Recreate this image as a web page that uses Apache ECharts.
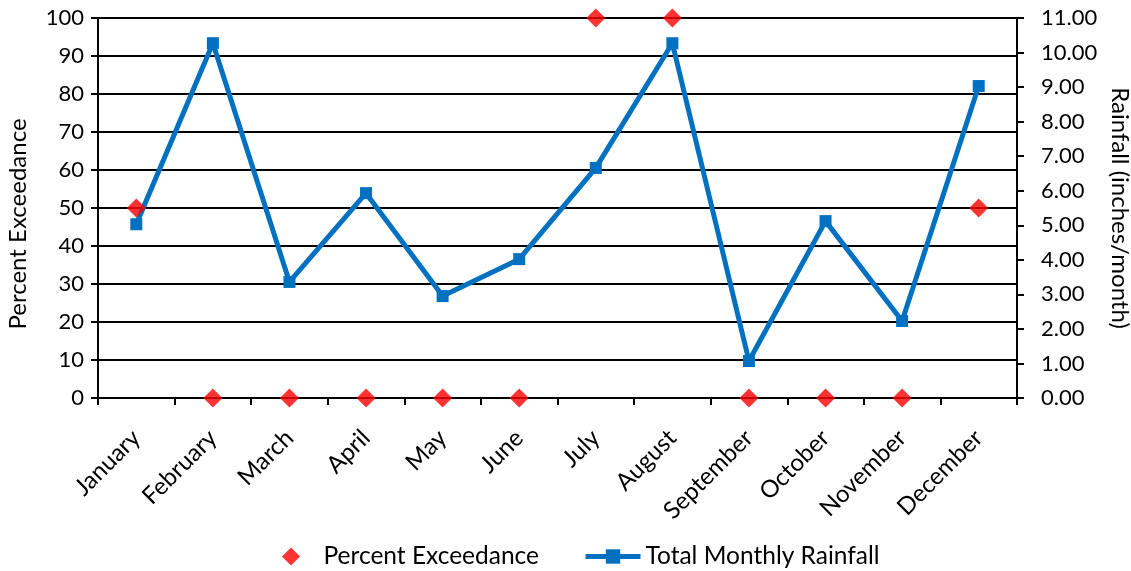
<!DOCTYPE html>
<html>
<head>
<meta charset="utf-8">
<script src="https://cdn.jsdelivr.net/npm/echarts@6/dist/echarts.min.js"></script>
<style>
  html, body { margin: 0; padding: 0; background: #fff; }
  #chart { width: 1131px; height: 571px; }
</style>
</head>
<body>
<div id="chart"></div>
<script>
// Monthly categories
const months = ['January', 'February', 'March', 'April', 'May', 'June',
  'July', 'August', 'September', 'October', 'November', 'December'];
// Percent exceedance per month (left axis)
const percentExceedance = [50, 0, 0, 0, 0, 0, 100, 100, 0, 0, 0, 50];
// Total monthly rainfall in inches (right axis)
const monthlyRainfall = [5.03, 10.27, 3.36, 5.93, 2.95, 4.02, 6.66, 10.27, 1.07, 5.12, 2.23, 9.03];

const FONT = 'Lato';
const black = '#000';
const blue = '#0070C0';
const red = '#FF0000';
// square-proportioned diamond so the legend icon is not stretched
const diamondPath = 'path://M10,0L20,10L10,20L0,10Z';

const chart = echarts.init(document.getElementById('chart'), null, { renderer: 'canvas' });
chart.setOption({
  animation: false,
  textStyle: { fontFamily: FONT, color: black },
  grid: {
    left: 98, right: 114, top: 18, bottom: 173,
    containLabel: false,
    outerBoundsMode: 'none'
  },
  legend: {
    top: 544,
    left: 282,
    padding: 0,
    itemWidth: 55,
    itemHeight: 18,
    itemGap: 44,
    symbolKeepAspect: true,
    textStyle: { fontFamily: FONT, fontSize: 24.5, color: black },
    data: [
      { name: 'Percent Exceedance', icon: diamondPath, itemStyle: { color: red } },
      { name: 'Total Monthly Rainfall', lineStyle: { width: 5, color: blue } }
    ]
  },
  xAxis: {
    type: 'category',
    data: months,
    boundaryGap: true,
    axisLine: { lineStyle: { color: black, width: 2 } },
    axisTick: { show: true, length: 7, inside: false, lineStyle: { color: black, width: 2 } },
    axisLabel: { rotate: 45, fontSize: 24, color: black, fontFamily: FONT, margin: 36, interval: 0 }
  },
  yAxis: [
    {
      type: 'value',
      min: 0, max: 100, interval: 10,
      name: 'Percent Exceedance',
      nameLocation: 'middle',
      nameRotate: 90,
      nameGap: 68,
      nameTextStyle: { fontSize: 24, color: black, fontFamily: FONT, padding: [0, 32, 0, 0] },
      axisLine: { show: true, lineStyle: { color: black, width: 2 } },
      axisTick: { show: true, length: 7, lineStyle: { color: black, width: 2 } },
      axisLabel: { fontSize: 22, color: black, fontFamily: FONT, margin: 14 },
      splitLine: { show: true, lineStyle: { color: black, width: 2 } }
    },
    {
      type: 'value',
      min: 0, max: 11, interval: 1,
      position: 'right',
      name: 'Rainfall (inches/month)',
      nameLocation: 'middle',
      nameRotate: -90,
      nameGap: 83,
      nameTextStyle: { fontSize: 24, color: black, fontFamily: FONT },
      axisLine: { show: true, lineStyle: { color: black, width: 2 } },
      axisTick: { show: true, length: 7, lineStyle: { color: black, width: 2 } },
      axisLabel: {
        fontSize: 22, color: black, fontFamily: FONT, margin: 24,
        formatter: v => v.toFixed(2)
      },
      splitLine: { show: false }
    }
  ],
  series: [
    {
      name: 'Total Monthly Rainfall',
      type: 'line',
      yAxisIndex: 1,
      data: monthlyRainfall,
      symbol: 'rect',
      symbolSize: 12,
      showAllSymbol: true,
      lineStyle: { color: blue, width: 5 },
      itemStyle: { color: blue },
      z: 3
    },
    {
      name: 'Percent Exceedance',
      type: 'scatter',
      yAxisIndex: 0,
      data: percentExceedance,
      symbol: 'diamond',
      symbolSize: 19,
      itemStyle: { color: red },
      z: 4
    }
  ]
});
</script>
</body>
</html>
